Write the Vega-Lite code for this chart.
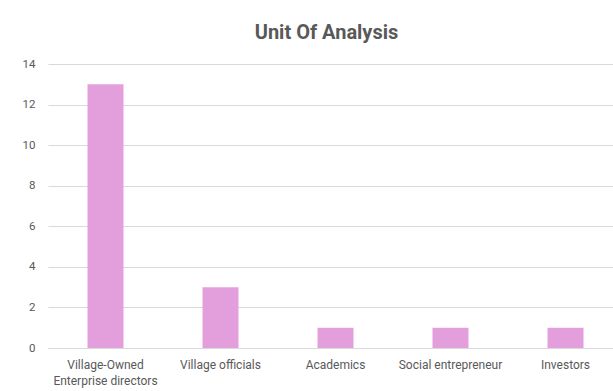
{
  "$schema": "https://vega.github.io/schema/vega-lite/v6.json",
  "autosize": {"type": "none"},
  "width": 575,
  "height": 284,
  "padding": {"left": 48, "top": 64, "right": 0, "bottom": 43},
  "background": "white",
  "title": {
    "text": "Unit Of Analysis",
    "fontSize": 20,
    "fontWeight": "bold",
    "font": "Roboto",
    "color": "#595959",
    "anchor": "middle",
    "offset": 15,
    "dx": -9
  },
  "data": {
    "values": [
      {"category": "Village-Owned Enterprise directors", "count": 13},
      {"category": "Village officials", "count": 3},
      {"category": "Academics", "count": 1},
      {"category": "Social entrepreneur", "count": 1},
      {"category": "Investors", "count": 1}
    ]
  },
  "mark": {"type": "bar", "color": "#E39FDC"},
  "encoding": {
    "x": {
      "field": "category",
      "type": "nominal",
      "sort": null,
      "scale": {"paddingInner": 0.687, "paddingOuter": 0.3435},
      "axis": {
        "title": null,
        "labelAngle": 0,
        "labelFont": "Roboto",
        "labelFontSize": 12,
        "labelColor": "#595959",
        "labelPadding": 11,
        "labelLineHeight": 16,
        "ticks": false,
        "domainColor": "#D9D9D9",
        "labelExpr": "datum.label == 'Village-Owned Enterprise directors' ? ['Village-Owned', 'Enterprise directors'] : datum.label"
      }
    },
    "y": {
      "field": "count",
      "type": "quantitative",
      "scale": {"domain": [0, 14]},
      "axis": {
        "title": null,
        "values": [0, 2, 4, 6, 8, 10, 12, 14],
        "domain": false,
        "ticks": false,
        "labelFont": "Roboto",
        "labelFontSize": 11.5,
        "labelColor": "#595959",
        "labelPadding": 13,
        "gridColor": "#D9D9D9"
      }
    }
  },
  "config": {"view": {"stroke": null}}
}
